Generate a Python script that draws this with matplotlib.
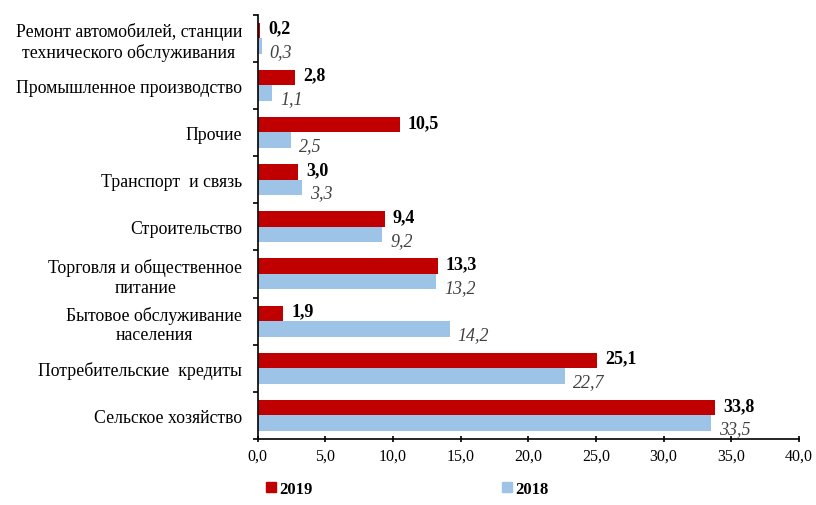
import matplotlib
matplotlib.use("Agg")
import matplotlib.pyplot as plt
import numpy as np
from matplotlib.patches import Patch

plt.rcParams['font.family'] = ['Liberation Serif', 'DejaVu Serif']

categories = [
    "Ремонт автомобилей, станции\nтехнического обслуживания",
    "Промышленное производство",
    "Прочие",
    "Транспорт  и связь",
    "Строительство",
    "Торговля и общественное\nпитание",
    "Бытовое обслуживание\nнаселения",
    "Потребительские  кредиты",
    "Сельское хозяйство",
]
values_2019 = [0.2, 2.8, 10.5, 3.0, 9.4, 13.3, 1.9, 25.1, 33.8]
values_2018 = [0.3, 1.1, 2.5, 3.3, 9.2, 13.2, 14.2, 22.7, 33.5]
xticks = [0, 5, 10, 15, 20, 25, 30, 35, 40]

red = "#C00000"
blue = "#9DC3E6"

W, H = 816, 506
fig = plt.figure(figsize=(W / 100, H / 100), dpi=100)
left, right, top, bottom = 257.5, 799, 15.5, 440
ax = fig.add_axes([left / W, 1 - bottom / H, (right - left) / W, (bottom - top) / H])

n = len(categories)
y = np.arange(n)[::-1].astype(float)
h = 0.33
ax.barh(y + h / 2, values_2019, height=h, color=red)
ax.barh(y - h / 2, values_2018, height=h, color=blue)

for yi, v in zip(y, values_2019):
    ax.text(v + 0.6, yi + h / 2 + 0.05, f"{v:.1f}".replace(".", ","), va="center", ha="left",
            fontsize=13, fontweight="bold")
for yi, v in zip(y, values_2018):
    ax.text(v + 0.6, yi - h / 2 - 0.12, f"{v:.1f}".replace(".", ","), va="center", ha="left",
            fontsize=13, fontstyle="italic", color="#404040")

ax.set_xlim(0, 40)
ax.set_ylim(-0.5, n - 0.5)
ax.set_xticks(xticks)
ax.set_xticklabels([f"{t:.1f}".replace(".", ",") for t in xticks], fontsize=11.5)
ax.set_yticks(y)
ax.set_yticklabels(categories, fontsize=12.8, multialignment="center")
ax.tick_params(axis="y", length=0, pad=11)
ax.set_yticks(np.arange(-0.5, n, 1.0), minor=True)
ax.tick_params(axis="y", which="minor", length=3.5, direction="out", width=1.2)
ax.tick_params(axis="x", length=5, direction="inout", width=1.2, pad=4)

for s in ["top", "right"]:
    ax.spines[s].set_visible(False)
ax.spines["left"].set_linewidth(1.2)
ax.spines["bottom"].set_linewidth(1.2)

handles = [Patch(color=red, label="2019"), Patch(color=blue, label="2018")]
fig.legend(handles=handles, loc="center left", bbox_to_anchor=(265.7 / W, 1 - 490 / H), ncol=2,
           frameon=False, borderpad=0, borderaxespad=0, handlelength=0.6, handleheight=0.6,
           handletextpad=0.2, columnspacing=11.4, prop={"weight": "bold", "size": 12})

fig.savefig("out.png", dpi=100)
